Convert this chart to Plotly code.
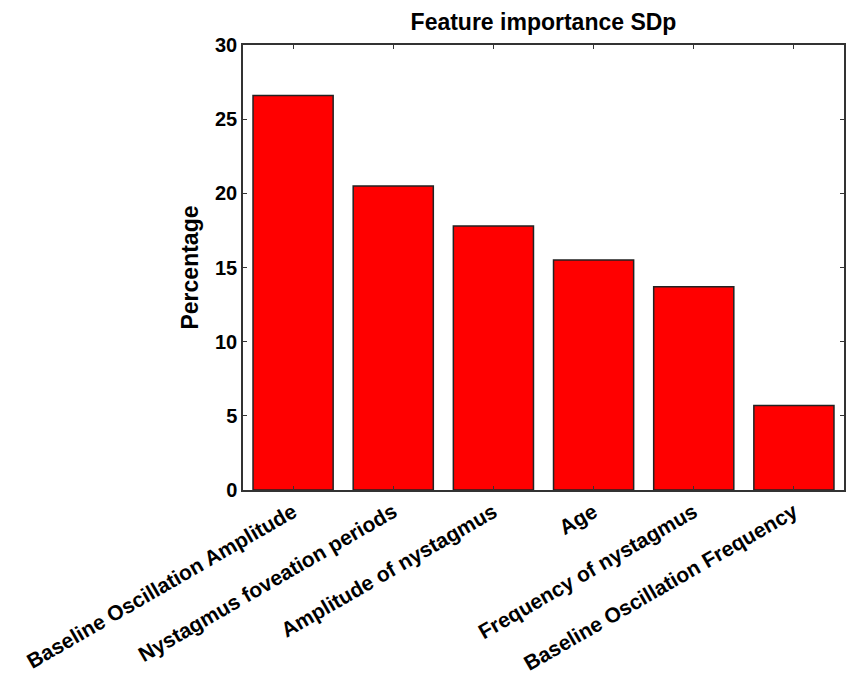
import plotly.graph_objects as go

categories = ["Baseline Oscillation Amplitude", "Nystagmus foveation periods",
              "Amplitude of nystagmus", "Age", "Frequency of nystagmus",
              "Baseline Oscillation Frequency"]
values = [26.6, 20.5, 17.8, 15.5, 13.7, 5.7]
y_ticks = [0, 5, 10, 15, 20, 25, 30]

font_family = "Liberation Sans, Arial, sans-serif"

fig = go.Figure(go.Bar(
    x=categories, y=values,
    marker=dict(color="#ff0000", line=dict(color="#222222", width=1.5)),
    width=0.8,
))

fig.update_layout(
    width=847, height=683,
    margin=dict(l=243, r=3, t=45, b=193, autoexpand=False),
    paper_bgcolor="white", plot_bgcolor="white",
    showlegend=False,
    font=dict(family=font_family, color="black"),
    title=dict(text="Feature importance SDp", x=0.5, xref="paper",
               xanchor="center", y=1 - 22 / 683, yref="container", yanchor="middle",
               font=dict(size=23, family=font_family, color="black", weight="bold")),
    bargap=0.2,
)
fig.update_xaxes(
    type="category", range=[-0.5, 5.5], automargin=False,
    tickangle=-30, tickfont=dict(size=21, family=font_family, color="black", weight="bold"),
    showline=True, linecolor="#333333", linewidth=1.5, mirror="ticks",
    ticks="inside", ticklen=4, tickcolor="#333333",
    showgrid=False,
)
fig.update_yaxes(
    range=[0, 30], tickvals=y_ticks, automargin=False,
    tickfont=dict(size=20, family=font_family, color="black", weight="bold"),
    showline=True, linecolor="#333333", linewidth=1.5, mirror="ticks",
    ticks="inside", ticklen=4, tickcolor="#333333",
    showgrid=False, zeroline=False,
    title=dict(text="Percentage", font=dict(size=23, family=font_family, color="black", weight="bold"),
               standoff=10),
)

fig.write_html("out.html", config={"displayModeBar": False},
               post_script="document.body.style.margin='0';document.body.style.overflow='hidden';")
